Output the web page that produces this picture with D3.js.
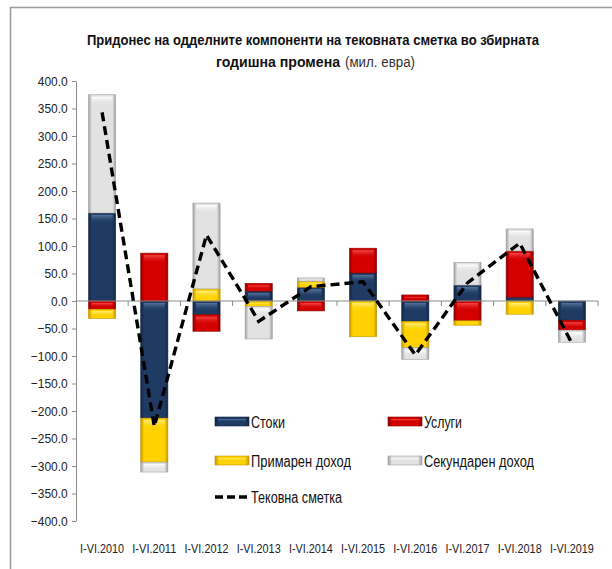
<!DOCTYPE html>
<html>
<head>
<meta charset="utf-8">
<script src="https://cdn.jsdelivr.net/npm/d3@7"></script>
<style>
  body { margin: 0; background: #fff; }
  svg text { font-family: "Liberation Sans", Arial, sans-serif; }
</style>
</head>
<body>
<div id="chart"></div>
<script>
// categories and series (мил. евра)
const periods = ["I-VI.2010", "I-VI.2011", "I-VI.2012", "I-VI.2013", "I-VI.2014",
                 "I-VI.2015", "I-VI.2016", "I-VI.2017", "I-VI.2018", "I-VI.2019"];
const stoki      = [160, -213, -25, 18, 25, 51, -37, 29, 7, -35];
const uslugi     = [-15, 87, -30, 14, -18, 45, 11, -36, 84, -18];
const primaren   = [-17, -80, 22, -10, 11, -65, -48, -8, -24, 0];
const sekundaren = [215, -18, 156, -59, 6, 0, -21, 41, 40, -22];
const tekovna    = [343, -228, 120, -37, 26, 35, -98, 33, 105, -77];
const yTicks = d3.range(-400, 401, 50);

const seriesNames = ["Стоки", "Услуги", "Примарен доход", "Секундарен доход"];
const lineName = "Тековна сметка";

const W = 612, H = 569;
const margin = {top: 81, right: 14, bottom: 48, left: 76};
const width = W - margin.left - margin.right,
      height = H - margin.top - margin.bottom;

const svg = d3.select("#chart").append("svg")
  .attr("width", W).attr("height", H);

// colours: base, light, dark
const palette = [
  {base: "#1f3b63", light: "#56779f", dark: "#132640"},
  {base: "#d40000", light: "#f24a4a", dark: "#8a0000"},
  {base: "#ffd200", light: "#ffec80", dark: "#c49500"},
  {base: "#e2e2e2", light: "#ffffff", dark: "#a0a0a0"}
];

const defs = svg.append("defs");
palette.forEach((c, i) => {
  const g = defs.append("linearGradient").attr("id", "hg" + i)
    .attr("x1", 0).attr("x2", 1).attr("y1", 0).attr("y2", 0);
  g.append("stop").attr("offset", "0%").attr("stop-color", c.dark);
  g.append("stop").attr("offset", "12%").attr("stop-color", c.base);
  g.append("stop").attr("offset", "88%").attr("stop-color", c.base);
  g.append("stop").attr("offset", "100%").attr("stop-color", c.dark);
  const v = defs.append("linearGradient").attr("id", "vg" + i)
    .attr("x1", 0).attr("x2", 0).attr("y1", 0).attr("y2", 1);
  v.append("stop").attr("offset", "0%").attr("stop-color", c.light);
  v.append("stop").attr("offset", "100%").attr("stop-color", c.base).attr("stop-opacity", 0);
});

// frame
svg.append("path")
  .attr("d", `M10.5,${H} L10.5,7.5 L${W},7.5`)
  .attr("fill", "none").attr("stroke", "#9a9a9a").attr("stroke-width", 1.5);

// title
svg.append("text").attr("x", 313).attr("y", 45)
  .attr("text-anchor", "middle").attr("font-size", 15).attr("font-weight", "bold").attr("fill", "#111")
  .attr("textLength", 452).attr("lengthAdjust", "spacingAndGlyphs")
  .text("Придонес  на одделните компоненти  на тековната сметка во збирната");
svg.append("text").attr("x", 340).attr("y", 67)
  .attr("text-anchor", "end").attr("font-size", 15).attr("font-weight", "bold").attr("fill", "#111")
  .attr("textLength", 124).attr("lengthAdjust", "spacingAndGlyphs")
  .text("годишна  промена");
svg.append("text").attr("x", 345).attr("y", 67)
  .attr("font-size", 14).attr("fill", "#333")
  .attr("textLength", 70).attr("lengthAdjust", "spacingAndGlyphs")
  .text("(мил. евра)");

const g = svg.append("g").attr("transform", `translate(${margin.left},${margin.top})`);

const x = d3.scaleBand().domain(periods).range([0, width]).paddingInner(0.48).paddingOuter(0.24);
const y = d3.scaleLinear().domain([-400, 400]).range([height, 0]);

// y axis
const yAxis = g.append("g")
  .call(d3.axisLeft(y).tickValues(yTicks).tickFormat(d3.format(".1f")).tickSize(4).tickSizeOuter(0));
yAxis.select(".domain").attr("stroke", "#8c8c8c");
yAxis.selectAll(".tick line").attr("stroke", "#8c8c8c");
yAxis.selectAll(".tick text").attr("font-size", 13).attr("fill", "#222").attr("x", -9)
  .attr("transform", "scale(0.92,1)");

// stacked data
const series = [stoki, uslugi, primaren, sekundaren];
const segments = [];
periods.forEach((p, j) => {
  let pos = 0, neg = 0;
  series.forEach((s, i) => {
    const v = s[j];
    if (v === 0) return;
    if (v > 0) { segments.push({p, i, y0: pos, y1: pos + v}); pos += v; }
    else { segments.push({p, i, y0: neg, y1: neg + v}); neg += v; }
  });
});

const segG = g.append("g").selectAll("g").data(segments).join("g")
  .attr("transform", d => `translate(${x(d.p)},${y(Math.max(d.y0, d.y1))})`);
segG.append("rect")
  .attr("width", x.bandwidth())
  .attr("height", d => Math.abs(y(d.y0) - y(d.y1)))
  .attr("fill", d => `url(#hg${d.i})`)
  .attr("stroke", d => palette[d.i].dark).attr("stroke-width", 0.6);
segG.append("rect")
  .attr("x", 3).attr("y", 2)
  .attr("width", x.bandwidth() - 6)
  .attr("height", d => Math.max(0, Math.min(8, Math.abs(y(d.y0) - y(d.y1)) - 4)))
  .attr("fill", d => `url(#vg${d.i})`);

// x axis line at zero with ticks at category boundaries
g.append("line").attr("x1", 0).attr("x2", width)
  .attr("y1", y(0)).attr("y2", y(0)).attr("stroke", "#8c8c8c").attr("stroke-width", 1.2);
g.append("g").selectAll("line").data(d3.range(1, periods.length + 1)).join("line")
  .attr("x1", d => d * width / periods.length).attr("x2", d => d * width / periods.length)
  .attr("y1", y(0)).attr("y2", y(0) + 5).attr("stroke", "#8c8c8c");

// category labels
g.append("g").selectAll("text").data(periods).join("text")
  .attr("x", d => x(d) + x.bandwidth() / 2).attr("y", height + 32)
  .attr("text-anchor", "middle").attr("font-size", 13).attr("fill", "#222")
  .attr("textLength", 44).attr("lengthAdjust", "spacingAndGlyphs")
  .text(d => d);

// current account line
const line = d3.line().x((d, j) => x(periods[j]) + x.bandwidth() / 2).y(d => y(d));
g.append("path").datum(tekovna)
  .attr("d", line).attr("fill", "none")
  .attr("stroke", "#000").attr("stroke-width", 3.4).attr("stroke-dasharray", "9,5");

// legend
const legendItems = [
  {name: seriesNames[0], i: 0, lx: 215, ly: 422, tw: 34},
  {name: seriesNames[1], i: 1, lx: 388, ly: 422, tw: 38},
  {name: seriesNames[2], i: 2, lx: 215, ly: 461, tw: 100},
  {name: seriesNames[3], i: 3, lx: 388, ly: 461, tw: 110}
];
const leg = svg.append("g").selectAll("g").data(legendItems).join("g")
  .attr("transform", d => `translate(${d.lx},${d.ly})`);
leg.append("rect").attr("x", 0).attr("y", -5).attr("width", 34).attr("height", 9)
  .attr("fill", d => `url(#hg${d.i})`).attr("stroke", d => palette[d.i].dark).attr("stroke-width", 0.6);
leg.append("rect").attr("x", 3).attr("y", -3).attr("width", 28).attr("height", 3)
  .attr("fill", d => `url(#vg${d.i})`);
leg.append("text").attr("x", 36).attr("y", 6).attr("font-size", 16).attr("fill", "#111")
  .attr("textLength", d => d.tw).attr("lengthAdjust", "spacingAndGlyphs")
  .text(d => d.name);

const lineLeg = svg.append("g").attr("transform", "translate(215,497)");
lineLeg.append("line").attr("x1", 0).attr("x2", 34).attr("y1", 0).attr("y2", 0)
  .attr("stroke", "#000").attr("stroke-width", 3.4).attr("stroke-dasharray", "8,4");
lineLeg.append("text").attr("x", 36).attr("y", 6).attr("font-size", 16).attr("fill", "#111")
  .attr("textLength", 91).attr("lengthAdjust", "spacingAndGlyphs")
  .text(lineName);
</script>
</body>
</html>
